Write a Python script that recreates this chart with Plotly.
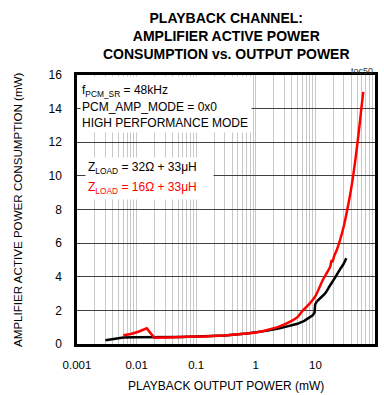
import plotly.graph_objects as go

# ---- data ----
black_x = [0.003, 0.0045, 0.006, 0.009, 0.015, 0.02, 0.03, 0.054, 0.1, 0.3, 0.7, 1.0, 1.5, 2.5, 4.0, 5.0, 6.5, 8.0, 9.0, 9.7, 9.9, 10.5, 12.0, 14.5, 17.6, 21.4, 26.0, 29.6, 33.0]
black_y = [0.22, 0.3, 0.38, 0.4, 0.4, 0.39, 0.39, 0.42, 0.44, 0.51, 0.62, 0.68, 0.78, 0.93, 1.1, 1.2, 1.38, 1.58, 1.7, 1.88, 2.35, 2.52, 2.72, 3.0, 3.48, 3.95, 4.45, 4.75, 5.1]

red_x = [0.006, 0.008, 0.0107, 0.0135, 0.0148, 0.0198, 0.03, 0.054, 0.1, 0.3, 0.7, 1.0, 1.5, 2.5, 4.0, 5.0, 6.0, 8.0, 10.0, 13.5, 16.0, 17.8, 18.6, 19.4, 20.5, 23.0, 26.0, 30.0, 34.5, 39.0, 43.0, 47.0, 51.0, 55.0, 59.0, 63.5]
red_y = [0.52, 0.6, 0.73, 0.85, 0.93, 0.37, 0.38, 0.42, 0.44, 0.51, 0.62, 0.69, 0.82, 1.05, 1.38, 1.6, 1.95, 2.4, 2.85, 3.85, 4.3, 4.62, 4.95, 4.9, 5.2, 5.62, 6.2, 7.02, 8.05, 9.05, 10.0, 11.0, 12.0, 13.0, 14.0, 15.0]

x_tickvals = [0.001, 0.01, 0.1, 1, 10, 100]
x_ticktext = ["0.001", "0.01", "0.1", "1", "10", "100"]
y_tickvals = [0, 2, 4, 6, 8, 10, 12, 14, 16]

title_lines = ["PLAYBACK CHANNEL:", "AMPLIFIER ACTIVE POWER", "CONSUMPTION vs. OUTPUT POWER"]
cond_lines = ["f<sub>PCM_SR</sub> = 48kHz", "PCM_AMP_MODE = 0x0", "HIGH PERFORMANCE MODE"]
label_black = "Z<sub>LOAD</sub> = 32Ω + 33μH"
label_red = "Z<sub>LOAD</sub> = 16Ω + 33μH"

FONT = "Liberation Sans, Arial, sans-serif"

# plot-area geometry in pixels (used to place texts)
L, R, T, B = 77, 375, 75, 344
W, H = R - L, B - T


def px(xp):
    return (xp - L) / W


def py(yp):
    return (B - yp) / H


fig = go.Figure()
# sharp segments drawn straight, smooth segments drawn as splines
bk = black_x.index(9.9)
fig.add_trace(go.Scatter(x=black_x[:bk + 2], y=black_y[:bk + 2], mode="lines",
                         line=dict(color="#000000", width=2.5), showlegend=False))
fig.add_trace(go.Scatter(x=black_x[bk + 1:], y=black_y[bk + 1:], mode="lines",
                         line=dict(color="#000000", width=2.5, shape="spline", smoothing=0.8),
                         showlegend=False))
rk = red_x.index(0.0198)
fig.add_trace(go.Scatter(x=red_x[:rk + 2], y=red_y[:rk + 2], mode="lines",
                         line=dict(color="#ff0000", width=2.5), showlegend=False))
fig.add_trace(go.Scatter(x=red_x[rk + 1:], y=red_y[rk + 1:], mode="lines",
                         line=dict(color="#ff0000", width=2.5, shape="spline", smoothing=0.8),
                         showlegend=False))

# minor gridlines values (2..9 in every decade)
minor_vals = [m * 10 ** e for e in range(-3, 2) for m in range(2, 10)]

fig.update_layout(
    width=384, height=395,
    margin=dict(l=L, r=384 - R, t=T, b=395 - B, autoexpand=False),
    paper_bgcolor="white", plot_bgcolor="white",
    font=dict(family=FONT, size=11, color="black"),
    xaxis=dict(type="log", range=[-3, 2], tickvals=x_tickvals, ticktext=x_ticktext,
               showgrid=True, gridcolor="#c8c8c8", gridwidth=1,
               minor=dict(tickvals=minor_vals, showgrid=True, gridcolor="#c8c8c8", gridwidth=1, ticks=""),
               ticks="outside", ticklen=8, tickcolor="rgba(0,0,0,0)",
               showline=True, linecolor="black", linewidth=2.5, mirror=True,
               tickfont=dict(size=11.5), zeroline=False, automargin=False),
    yaxis=dict(range=[0, 16], tickvals=y_tickvals,
               showgrid=True, gridcolor="#404040", gridwidth=1,
               ticks="outside", ticklen=10, tickcolor="rgba(0,0,0,0)",
               showline=True, linecolor="black", linewidth=2.5, mirror=True,
               tickfont=dict(size=12), zeroline=False, automargin=False),
)

# white boxes behind the note texts (hide gridlines)
fig.add_annotation(text=" ", xref="paper", yref="paper", x=px(80), y=py(76.5),
                   xanchor="left", yanchor="top", showarrow=False,
                   width=250 - 80, height=131 - 76.5, bgcolor="white", borderpad=0)
fig.add_annotation(text=" ", xref="paper", yref="paper", x=px(85), y=py(157),
                   xanchor="left", yanchor="top", showarrow=False,
                   width=212 - 85, height=198 - 157, bgcolor="white", borderpad=0)

# title
fig.add_annotation(text="<br>".join(title_lines), xref="paper", yref="paper", x=0.5, y=py(36),
                   xanchor="center", yanchor="middle", showarrow=False, align="center",
                   font=dict(family=FONT, size=14, color="black", weight="bold"))

# toc label
fig.add_annotation(text="toc50", xref="paper", yref="paper", x=1.0, y=1.0, xanchor="right", yanchor="bottom",
                   showarrow=False, font=dict(size=9, color="#333333"), yshift=-3)

# conditions
for i, t in enumerate(cond_lines):
    fig.add_annotation(text=t, xref="paper", yref="paper", x=px(80), y=py(91 + 16 * i),
                       xanchor="left", yanchor="middle", showarrow=False,
                       font=dict(size=12, color="black"))

fig.add_annotation(text=label_black, xref="paper", yref="paper", x=px(86), y=py(168),
                   xanchor="left", yanchor="middle", showarrow=False, font=dict(size=12, color="black"))
fig.add_annotation(text=label_red, xref="paper", yref="paper", x=px(86), y=py(188),
                   xanchor="left", yanchor="middle", showarrow=False, font=dict(size=12, color="#ff0000"))

# axis titles
fig.add_annotation(text="PLAYBACK OUTPUT POWER (mW)", xref="paper", yref="paper", x=0.5, y=py(386),
                   xanchor="center", yanchor="middle", showarrow=False, font=dict(size=12))
fig.add_annotation(text="AMPLIFIER ACTIVE POWER CONSUMPTION (mW)", xref="paper", yref="paper",
                   x=px(17), y=py(210), textangle=-90,
                   xanchor="center", yanchor="middle", showarrow=False, font=dict(size=11.6))

fig.write_html("out.html", config={"displayModeBar": False},
               post_script="document.body.style.margin='0';")
